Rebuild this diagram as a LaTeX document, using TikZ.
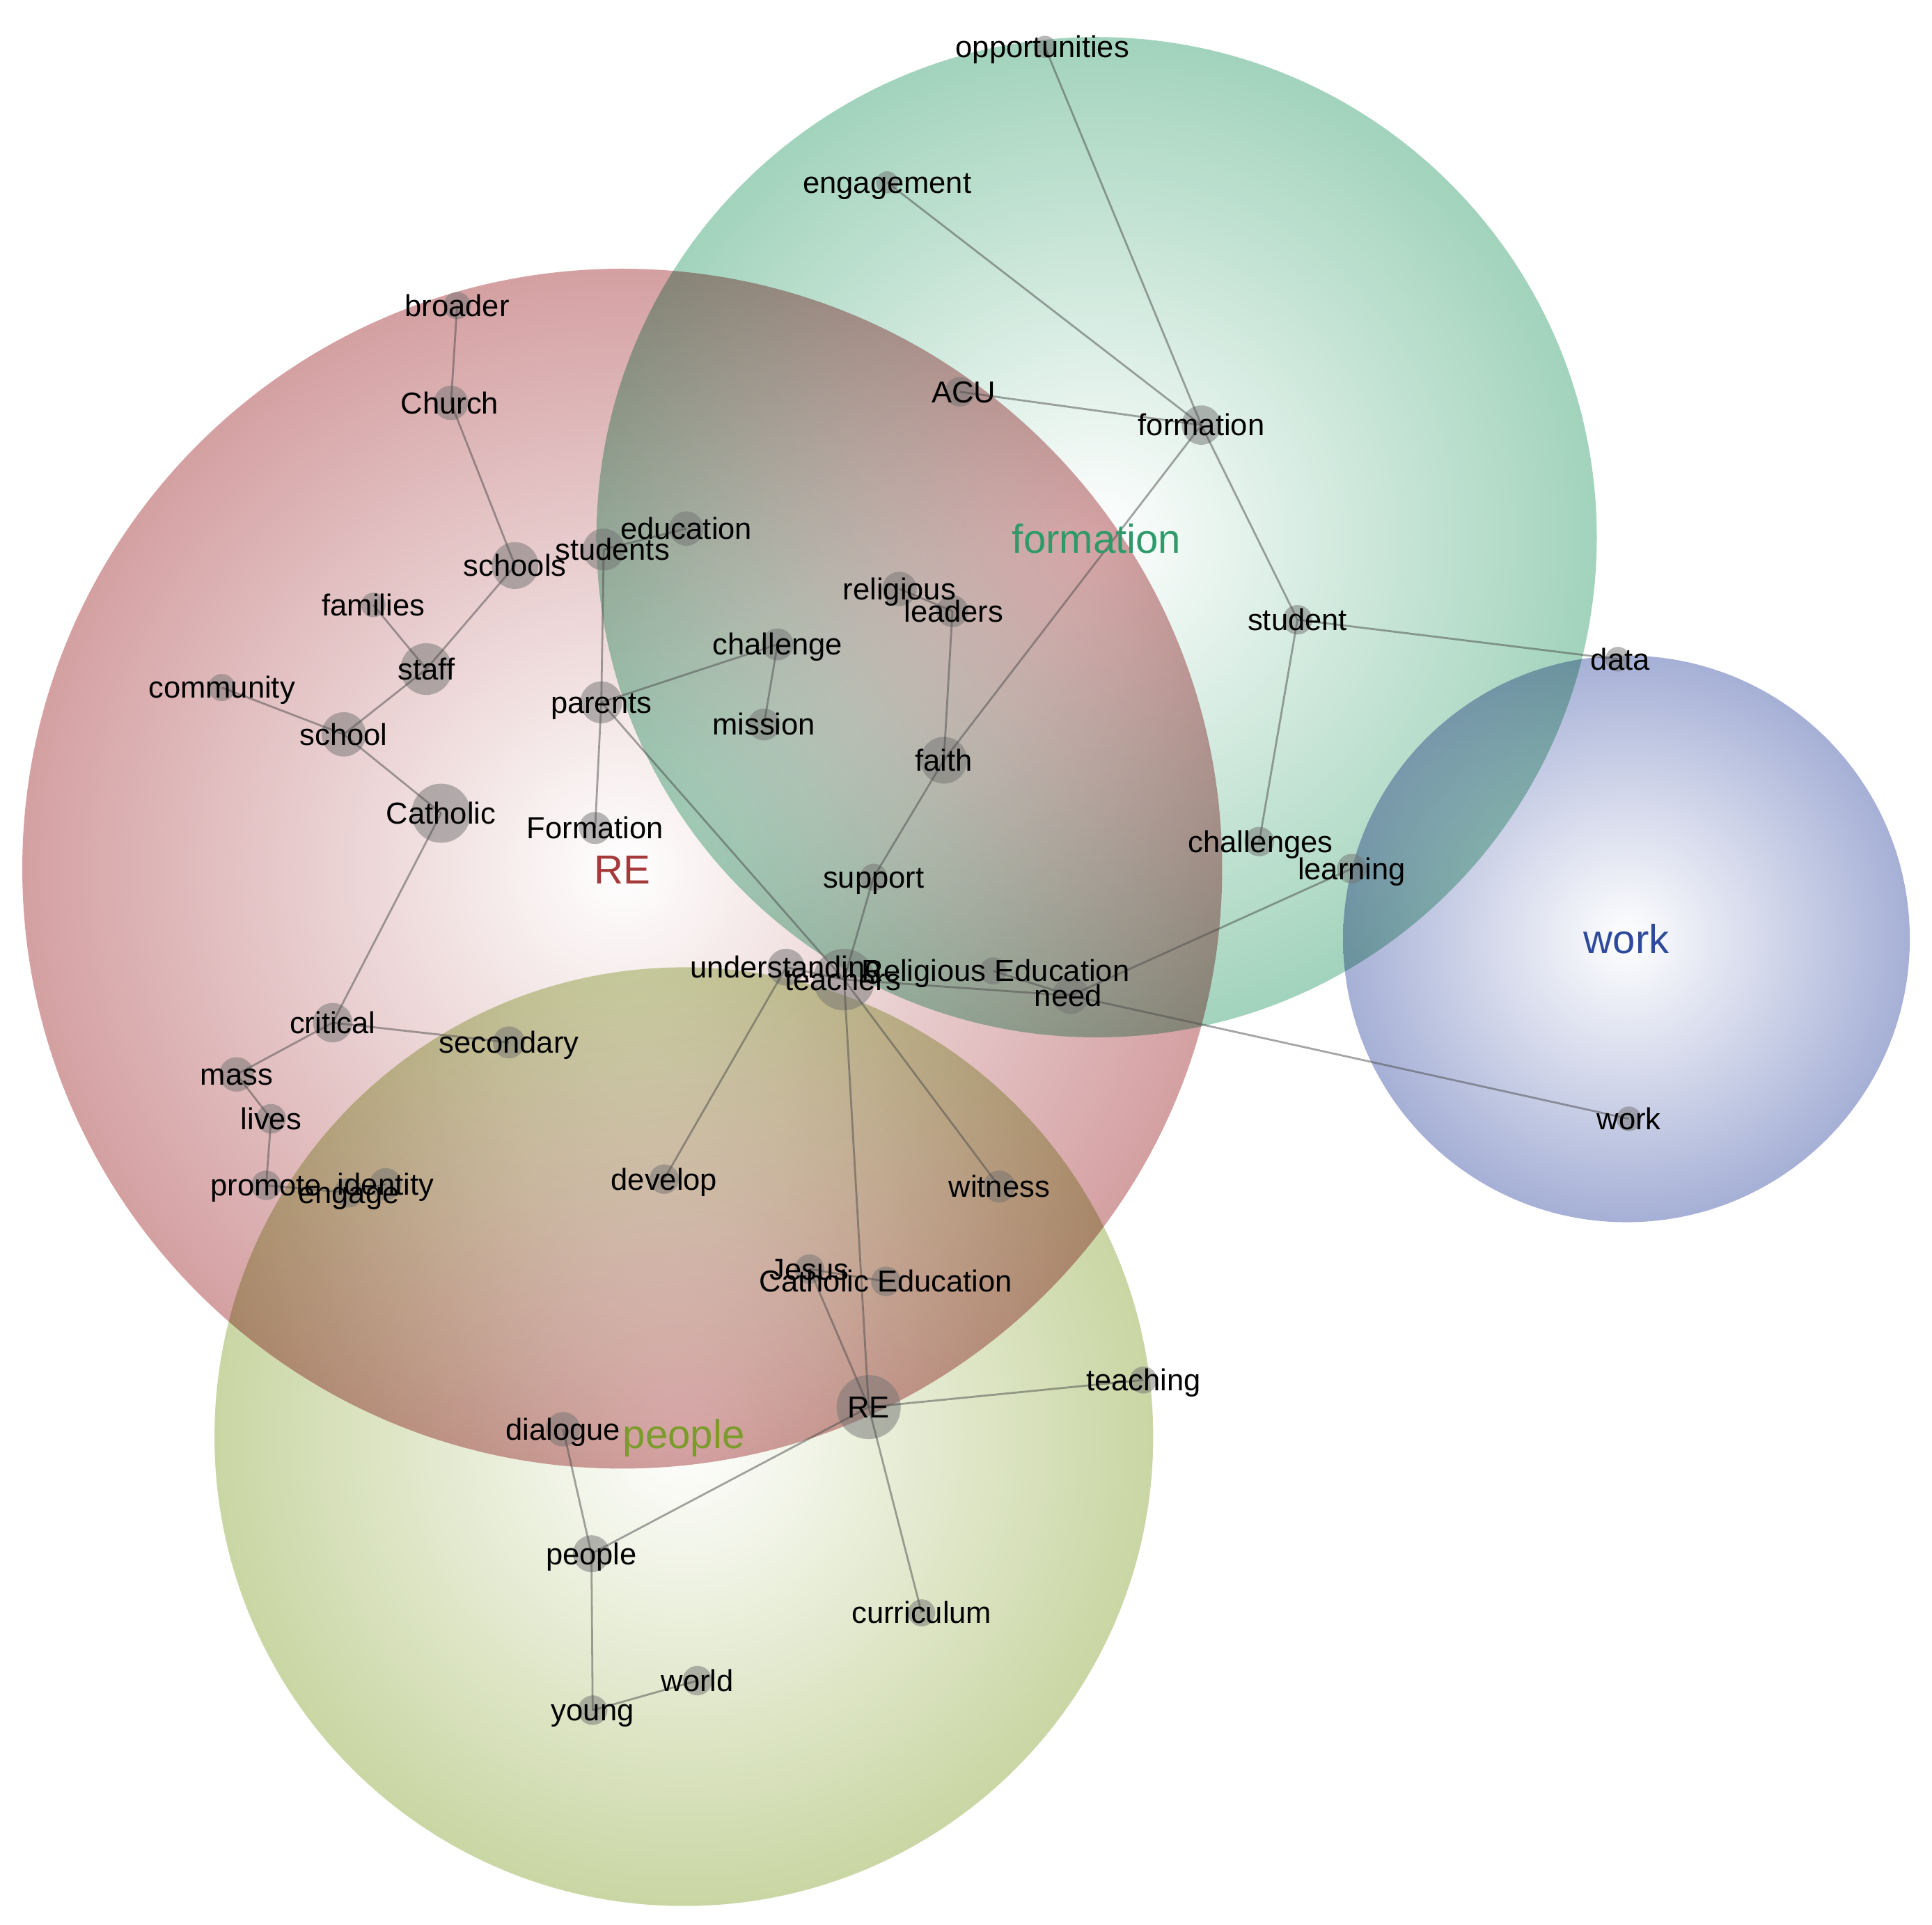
\documentclass[tikz,border=0pt]{standalone}
\usepackage{fontspec}
\setmainfont{Liberation Sans}
\usepackage{tikz}
\definecolor{recol}{RGB}{212,160,162}
\definecolor{formcol}{RGB}{162,211,188}
\definecolor{peoplecol}{RGB}{202,214,164}
\definecolor{workcol}{RGB}{166,176,214}
\definecolor{retext}{RGB}{166,58,58}
\definecolor{formtext}{RGB}{46,154,106}
\definecolor{peopletext}{RGB}{123,155,43}
\definecolor{worktext}{RGB}{46,74,154}

\begin{document}
\begin{tikzpicture}[x=0.02cm, y=-0.02cm,
  dot/.style={circle, fill=black!55, fill opacity=0.5, draw=none, inner sep=0pt, minimum size=#1},
  word/.style={font=\fontsize{14}{16}\selectfont, inner sep=0pt, text height=10pt, text depth=3pt, yshift=-0.05cm},
  theme/.style={font=\fontsize{18.7}{22}\selectfont, inner sep=0pt},
  link/.style={draw=black!70, draw opacity=0.5, line width=0.9pt}]
  \useasboundingbox (0,0) rectangle (1568,1562);

  % theme circles
  \begin{scope}[blend group=multiply]
    \shade[inner color=white, outer color=recol] (505,705) circle[radius=9.74cm];
    \shade[inner color=white, outer color=formcol] (890,436) circle[radius=8.12cm];
    \shade[inner color=white, outer color=peoplecol] (555,1166) circle[radius=7.62cm];
    \shade[inner color=white, outer color=workcol] (1320,762) circle[radius=4.6cm];
  \end{scope}

  % concepts
  \foreach \n/\x/\y/\s in {opportunities/848/38/0.36, engagement/720/148/0.36, broader/371/248/0.44,
      Church/366/327/0.56, ACU/779/318/0.48, formationc/975/345/0.64, education/557/429/0.56,
      students/490/446/0.68, schools/418/459/0.76, families/303/491/0.40, religious/730/478/0.56,
      leaders/773/496/0.52, staff/346/543/0.84, challenge/631/523/0.52, student/1053/503/0.48,
      data/1313/535/0.40, community/180/558/0.44, parents/488/570/0.68, mission/620/588/0.52,
      school/279/596/0.72, faith/766/617/0.76, Catholic/358/660/0.96, Formation/483/672/0.52,
      challenges/1022/683/0.48, learning/1097/705/0.48, support/709/712/0.44,
      understanding/638/785/0.60, teachers/685/795/1.00, reled/806/788/0.44, need/869/808/0.60,
      critical/270/830/0.64, secondary/413/846/0.52, mass/192/872/0.56, lives/220/908/0.48,
      workc/1322/908/0.40, promote/216/962/0.48, engage/283/968/0.48, identity/313/961/0.52,
      develop/539/957/0.48, witness/811/963/0.52, Jesus/657/1030/0.48, cathed/719/1040/0.48,
      teaching/928/1120/0.44, REc/705/1142/1.04, dialogue/457/1160/0.56, peoplec/480/1261/0.60,
      curriculum/748/1309/0.44, world/566/1364/0.48, young/481/1388/0.48}
    \node[dot=\s cm] (\n) at (\x,\y) {};

  % links
  \foreach \a/\b in {opportunities/formationc, engagement/formationc, ACU/formationc,
      formationc/student, formationc/faith, student/data, student/challenges,
      broader/Church, Church/schools, schools/staff, families/staff, staff/school,
      community/school, school/Catholic, Catholic/critical, critical/mass, critical/secondary,
      mass/lives, lives/promote, promote/engage, engage/identity, students/education,
      students/parents, parents/Formation, parents/challenge, challenge/mission,
      parents/teachers, religious/leaders, leaders/faith, faith/support, support/teachers,
      understanding/teachers, teachers/need, reled/need, learning/need, need/workc,
      understanding/develop, teachers/REc, teachers/witness, Jesus/REc, Jesus/cathed,
      REc/teaching, REc/curriculum, REc/peoplec, dialogue/peoplec, peoplec/young, young/world}
    \draw[link] (\a.center) -- (\b.center);

  % concept labels
  \foreach \n/\dx/\t in {opportunities/-2/opportunities, engagement/0/engagement, broader/0/broader,
      Church/-1/Church, ACU/3/ACU, formationc/0/formation, education/0/education,
      students/7/students, schools/0/schools, families/0/families, religious/0/religious,
      leaders/1/leaders, staff/0/staff, challenge/0/challenge, student/0/student,
      data/2/data, community/0/community, parents/0/parents, mission/0/mission,
      school/0/school, faith/0/faith, Catholic/0/Catholic, Formation/0/Formation,
      challenges/1/challenges, learning/0/learning, support/0/support,
      understanding/0/understanding, teachers/-1/teachers, reled/2/Religious Education,
      need/-2/need, critical/0/critical, secondary/0/secondary, mass/0/mass, lives/0/lives,
      workc/0/work, promote/0/promote, engage/0/engage, identity/0/identity,
      develop/0/develop, witness/0/witness, Jesus/0/Jesus, cathed/0/Catholic Education,
      teaching/0/teaching, REc/0/RE, dialogue/0/dialogue, peoplec/0/people,
      curriculum/0/curriculum, world/0/world, young/0/young}
    \node[word] (\n-t) at ([xshift=\dx*0.02cm]\n.center) {\t};

  % theme labels
  \node[theme, text=retext] (th-re) at (505,706) {RE};
  \node[theme, text=formtext] (th-formation) at (890,437) {formation};
  \node[theme, text=peopletext] (th-people) at (555,1167) {people};
  \node[theme, text=worktext] (th-work) at (1320,762) {work};
\end{tikzpicture}
\end{document}
